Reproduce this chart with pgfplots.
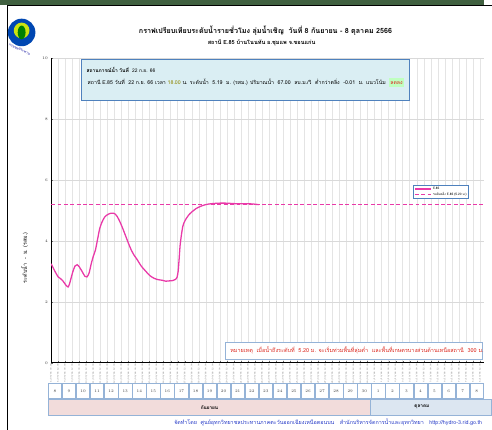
\documentclass[border=0pt]{standalone}
\usepackage{fontspec}
\usepackage{pgfplots}
\pgfplotsset{compat=1.18}
\newfontfamily\thaifont[Script=Thai]{Loma}
\definecolor{wl}{RGB}{233,57,168}
\definecolor{boxfill}{RGB}{218,238,243}
\definecolor{boxline}{RGB}{79,129,189}
\definecolor{celline}{RGB}{149,179,215}
\definecolor{seppink}{RGB}{242,220,219}
\definecolor{octblue}{RGB}{220,230,241}
\definecolor{notered}{RGB}{220,40,30}
\definecolor{footblue}{RGB}{40,60,200}
\definecolor{gridc}{RGB}{228,228,228}
\begin{document}
\begin{tikzpicture}
\begin{scope}[x=1bp,y=-1bp]
\path[use as bounding box] (0,0) rectangle (492,437);
\fill[white] (0,0) rectangle (492,437);
\fill[black!75!green!50!gray] (0,0) rectangle (492,5);
\draw[black,line width=1.2bp] (8,445) -- (8,6) -- (500,6);
% logo
\fill[blue!60!cyan!70!black] (22,33) circle (14);
\fill[yellow!80!green] (22,31) circle (8);
\fill[green!50!black] (22,33) ellipse (4 and 7);
\node[font=\thaifont\fontsize{3.5}{4}\selectfont, text=blue!60!black, rotate=-25] at (20,50) {กรมชลประทาน};
% titles
\node[font=\thaifont\bfseries\fontsize{7.3}{8}\selectfont] at (270,31) {กราฟเปรียบเทียบระดับน้ำรายชั่วโมง ลุ่มน้ำเชิญ \ วันที่ 8 กันยายน - 8 ตุลาคม 2566};
\node[font=\thaifont\bfseries\fontsize{5.7}{6}\selectfont] at (266,44) {สถานี E.85 บ้านโนนทัน อ.ชุมแพ จ.ขอนแก่น};
\end{scope}

\begin{axis}[
  at={(52bp,-369bp)}, anchor=south west,
  scale only axis, width=440bp, height=310bp,
  xmin=0, xmax=30.77, ymin=0, ymax=10,
  axis x line*=bottom, axis y line*=left,
  axis line style={black, line width=0.8bp, -},
  xtick={0,0.5,...,30.5},
  ytick={0,2,4,6,8,10},
  grid=major,
  x grid style={gridc, line width=0.5bp},
  y grid style={black!15, line width=0.8bp},
  tick style={black!60, line width=0.3bp},
  major tick length=2bp,
  /pgf/number format/assume math mode=true,
  yticklabel style={font=\fontsize{4}{5}\selectfont, text=black!80},
  xticklabel style={rotate=90, anchor=east, font=\fontsize{2.2}{2.5}\selectfont, text=black!60, inner sep=1pt},
  xticklabel={\pgfmathtruncatemacro{\dd}{floor(\tick+0.01)}\pgfmathtruncatemacro{\hh}{round((\tick-\dd)*24)}\ifnum\dd<23\relax\pgfmathtruncatemacro{\dn}{\dd+8}\def\mm{09}\else\pgfmathtruncatemacro{\dn}{\dd-22}\def\mm{10}\fi\dn/\mm/66 \ifnum\hh<10 0\fi\hh.00},
  legend style={at={(0.836,0.584)}, anchor=north west, draw=boxline, line width=0.7bp, fill=white,
     font=\thaifont\fontsize{3.2}{3.8}\selectfont, inner sep=1pt, row sep=-1pt,
     nodes={inner sep=1pt}},
  legend cell align=left,
  legend image post style={line width=1.1bp},
  clip=true,
]
\addplot[wl, line width=1.3bp, smooth, tension=0.4] coordinates {
(0.00,3.25) (0.25,3.02) (0.50,2.82) (0.65,2.77) (0.85,2.68) (1.05,2.55) (1.20,2.49)
(1.30,2.58) (1.40,2.75) (1.55,3.00) (1.70,3.18) (1.85,3.22) (2.00,3.15) (2.20,3.00)
(2.40,2.84) (2.55,2.82) (2.70,2.95) (2.85,3.25) (3.00,3.50) (3.15,3.70) (3.30,4.05)
(3.45,4.40) (3.60,4.60) (3.80,4.78) (4.00,4.86) (4.25,4.91) (4.50,4.90) (4.70,4.80)
(4.90,4.62) (5.10,4.40) (5.30,4.16) (5.50,3.92) (5.70,3.70) (5.90,3.53) (6.10,3.40)
(6.40,3.18) (6.70,3.02) (7.00,2.87) (7.30,2.78) (7.60,2.73) (7.90,2.71) (8.15,2.68)
(8.40,2.69) (8.65,2.70) (8.85,2.74) (8.95,2.80) (9.03,3.00) (9.10,3.40) (9.17,3.85)
(9.25,4.15) (9.35,4.45) (9.45,4.60) (9.60,4.73) (9.80,4.86) (10.0,4.95) (10.3,5.06)
(10.6,5.13) (10.9,5.18) (11.2,5.21) (11.6,5.23) (12.0,5.24) (12.4,5.24) (12.8,5.23)
(13.2,5.22) (13.6,5.22) (14.0,5.22) (14.4,5.21) (14.75,5.19)
};
\addlegendentry{E.85}
\addplot[wl, line width=1.3bp, dash pattern=on 4bp off 2.5bp] coordinates {(0,5.2) (30.77,5.2)};
\addlegendentry{ระดับตลิ่ง E.85 (5.20 ม.)}
\end{axis}

\begin{scope}[x=1bp,y=-1bp]
% y label
\node[font=\thaifont\fontsize{5.5}{6}\selectfont, rotate=90] at (25,262) {ระดับน้ำ \ - \ ม. (รสม.)};
% info box
\draw[boxline, fill=boxfill, line width=0.7bp] (83,60) rectangle (416,102);
\node[anchor=west, font=\thaifont\fontsize{5}{5.5}\selectfont, inner sep=0] at (88,71) {\textbf{สถานการณ์น้ำ วันที่} \ 22 ก.ย. 66};
\node[anchor=west, font=\thaifont\fontsize{5.35}{6}\selectfont, inner sep=0] at (89,84) {สถานี E.85 วันที่ \ 22 ก.ย. 66 เวลา \textcolor{olive}{18.00} น. ระดับน้ำ \ 5.19 \ ม. (รสม.) ปริมาณน้ำ \ 67.00 \ ลบ.ม./วิ \ ต่ำกว่าตลิ่ง \ -0.01 \ ม. แนวโน้ม \ \colorbox{green!25}{\kern-2pt\textcolor{notered}{ลดลง}\kern-2pt}};
% note box
\draw[celline, fill=white, line width=0.7bp] (229,348) rectangle (490,365);
\node[anchor=west, font=\thaifont\fontsize{5.6}{6}\selectfont, text=notered, inner sep=0] at (234,356.5) {หมายเหตุ \ เมื่อน้ำถึงระดับที่ \ 5.20 ม. จะเริ่มท่วมพื้นที่ลุ่มต่ำ \ และพื้นที่เกษตรบางส่วนด้านเหนือสถานี \ 300 ม.};
% day boxes
\foreach \k/\lab in {0/8,1/9,2/10,3/11,4/12,5/13,6/14,7/15,8/16,9/17,10/18,11/19,12/20,13/21,14/22,15/23,16/24,17/25,18/26,19/27,20/28,21/29,22/30,23/1,24/2,25/3,26/4,27/5,28/6,29/7,30/8}{
  \draw[celline, fill=white, line width=0.6bp] ({49+14.3*\k},390) rectangle ({49+14.3*\k+13.6},405.5);
  \node[font=\fontsize{4}{5}\selectfont, text=black!75] at ({49+14.3*\k+6.8},397.7) {\lab};
}
\draw[celline, fill=seppink, line width=0.6bp] (49,406) rectangle (377,422);
\draw[celline, fill=octblue, line width=0.6bp] (377,406) rectangle (500,422);
\node[font=\thaifont\bfseries\fontsize{4.8}{5.5}\selectfont] at (213,414) {กันยายน};
\node[font=\thaifont\bfseries\fontsize{4.8}{5.5}\selectfont] at (429,414) {ตุลาคม};
% footer
\node[anchor=west, font=\thaifont\fontsize{5.5}{6}\selectfont, text=footblue, inner sep=0] at (177,429.5) {จัดทำโดย \ ศูนย์อุทกวิทยาชลประทานภาคตะวันออกเฉียงเหนือตอนบน \ \ สำนักบริหารจัดการน้ำและอุทกวิทยา \ \ http://hydro-3.rid.go.th};
\end{scope}
\end{tikzpicture}
\end{document}
